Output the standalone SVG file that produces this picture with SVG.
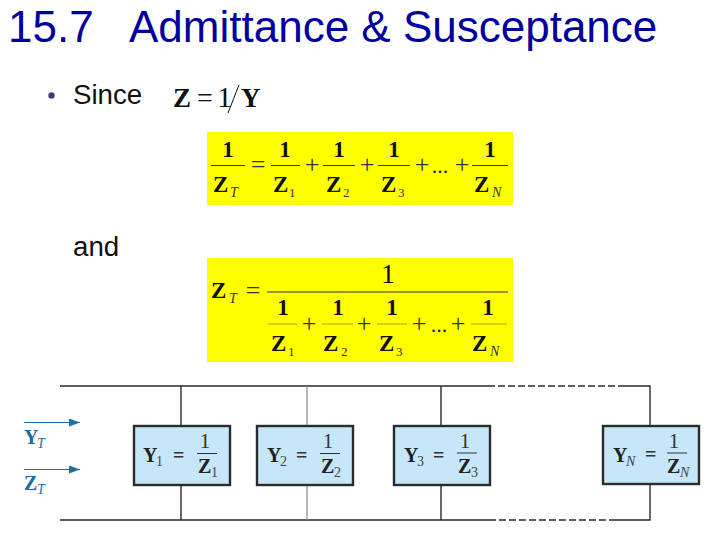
<svg xmlns="http://www.w3.org/2000/svg" width="720" height="540" viewBox="0 0 720 540">
<style>
.h{font-family:"Liberation Sans",Arial,sans-serif;fill:#0000a0;font-size:44px}
.b{font-family:"Liberation Sans",Arial,sans-serif;fill:#111;font-size:27.700px}
.m{font-family:"Liberation Serif","Times New Roman",serif;fill:#111}
.z{font-weight:bold;font-size:23px}
.o{font-size:26px;text-anchor:middle;fill:#333}
.d{font-size:22px;text-anchor:middle;fill:#222}
.r{font-size:28px}
.s{font-size:13px;fill:#333}
.i{font-style:italic;font-size:14px;fill:#333}
.mid{text-anchor:middle}
.bar{stroke:#333;stroke-width:1;fill:none}
.bar2{stroke:#a8a800;stroke-width:1;fill:none}
.box{fill:#c6e6fa;stroke:#2b2b2b;stroke-width:2.4}
.wire{stroke:#2b2b2b;stroke-width:1.4;fill:none}
.wg{stroke:#8a8a8a;stroke-width:1.2;fill:none}
.tz{font-family:"Liberation Serif","Times New Roman",serif;font-weight:bold;font-size:20px;fill:#222}
.ts{font-family:"Liberation Serif","Times New Roman",serif;font-size:14px;fill:#444}
.tsi{font-family:"Liberation Serif","Times New Roman",serif;font-style:italic;font-size:14px;fill:#444}
.teq{font-family:"Liberation Serif","Times New Roman",serif;font-weight:bold;font-size:20px;fill:#333}
.t1{font-family:"Liberation Serif","Times New Roman",serif;font-size:21px;fill:#333;text-anchor:middle}
.lb{font-family:"Liberation Serif","Times New Roman",serif;font-weight:bold;font-size:20px;fill:#1f6a9a}
.lbs{font-family:"Liberation Serif","Times New Roman",serif;font-style:italic;font-size:14px;fill:#1f6a9a}
.arr{stroke:#1f6f9f;stroke-width:1.2;fill:none;marker-end:url(#ah)}
</style>
<defs>
<marker id="ah" markerUnits="userSpaceOnUse" markerWidth="11" markerHeight="8" refX="11" refY="4" orient="auto"><path d="M0 0L11 4L0 8Z" fill="#1f6f9f"/></marker>
</defs>
<rect width="720" height="540" fill="#fff"/>
<text class="h" x="8" y="42">15.7</text>
<text class="h" x="129" y="42">Admittance &amp; Susceptance</text>
<circle cx="51.500" cy="95.500" r="3.200" fill="#3c3c8c"/>
<text class="b" x="73" y="104">Since</text>
<text class="b" x="73" y="256">and</text>

<g id="formula-zy">
<text class="m" x="173" y="107" style="font-size:27px;font-weight:bold">Z</text>
<text class="m" x="197" y="107" style="font-size:28px">=</text>
<text class="m" x="217" y="107" style="font-size:30px">1</text>
<path d="M239 85L228 113" stroke="#111" stroke-width="1" fill="none"/>
<text class="m" x="241" y="107" style="font-size:27px;font-weight:bold">Y</text>
</g>

<g id="formula-sum">
<rect x="207" y="132" width="306" height="73" fill="#ffff00"/>
<g class="m">
<text class="z mid" x="228" y="157">1</text>
<text class="z mid" x="285" y="157">1</text>
<text class="z mid" x="339" y="157">1</text>
<text class="z mid" x="394" y="157">1</text>
<text class="z mid" x="490" y="157">1</text>
<text class="o" x="258" y="173">=</text>
<text class="o" x="312" y="173">+</text>
<text class="o" x="367" y="173">+</text>
<text class="o" x="422" y="173">+</text>
<text class="d" x="440" y="173">...</text>
<text class="o" x="462" y="173">+</text>
<text class="z" x="213" y="192">Z</text><text class="i" x="230" y="197">T</text>
<text class="z" x="273" y="192">Z</text><text class="s" x="289" y="197">1</text>
<text class="z" x="326" y="192">Z</text><text class="s" x="343" y="197">2</text>
<text class="z" x="381" y="192">Z</text><text class="s" x="398" y="197">3</text>
<text class="z" x="474" y="192">Z</text><text class="i" x="492" y="197">N</text>
</g>
<path class="bar" d="M211 165.500H245M271 165.500H300M323 165.500H355M378 165.500H410M472 165.500H508"/>
</g>

<g id="formula-zt">
<rect x="207" y="258" width="306" height="104" fill="#ffff00"/>
<g class="m">
<text class="z" x="211" y="298">Z</text><text class="i" x="229" y="303">T</text>
<text class="o" x="253" y="299">=</text>
<text class="r mid" x="388" y="283">1</text>
<text class="z mid" x="283" y="315">1</text>
<text class="z mid" x="338" y="315">1</text>
<text class="z mid" x="392" y="315">1</text>
<text class="z mid" x="488" y="315">1</text>
<text class="o" x="309" y="332">+</text>
<text class="o" x="364" y="332">+</text>
<text class="o" x="419" y="332">+</text>
<text class="d" x="439" y="332">...</text>
<text class="o" x="458" y="332">+</text>
<text class="z" x="271" y="351">Z</text><text class="s" x="288" y="356">1</text>
<text class="z" x="323" y="351">Z</text><text class="s" x="341" y="356">2</text>
<text class="z" x="379" y="351">Z</text><text class="s" x="396" y="356">3</text>
<text class="z" x="472" y="351">Z</text><text class="i" x="490" y="356">N</text>
</g>
<path class="bar" d="M267 292H508"/>
<path class="bar2" d="M268 324H297M322 324H353M377 324H407M471 324H507"/>
</g>

<g id="connectors">
<path class="wire" d="M60 386H488M622 386H650V426M60 520H489M616 520H650V485"/>
<path class="wire" stroke-dasharray="7 3" d="M488 386H622M489 520H616"/>
<path class="wire" d="M181 386V426M181 485V520M441 386V426M441 485V520"/>
<path class="wg" d="M307 386V426M307 485V520"/>
<path class="arr" d="M24 422.500H80"/>
<path class="arr" d="M24 469.500H80"/>
</g>

<g id="label-yt"><text class="lb" x="24" y="444">Y</text><text class="lbs" x="37" y="448">T</text></g>
<g id="label-zt"><text class="lb" x="24" y="490">Z</text><text class="lbs" x="37" y="494">T</text></g>

<g id="node-y1">
<rect class="box" x="134" y="426" width="96" height="59"/>
<text class="tz" x="143" y="462">Y</text><text class="ts" x="156" y="466">1</text>
<text class="teq" x="173" y="462">=</text>
<text class="t1" x="205" y="448">1</text>
<path class="bar" d="M197 453.500H217"/>
<text class="tz" x="198" y="473">Z</text><text class="ts" x="211" y="477">1</text>
</g>
<g id="node-y2">
<rect class="box" x="257" y="426" width="96" height="59"/>
<text class="tz" x="267" y="462">Y</text><text class="ts" x="280" y="466">2</text>
<text class="teq" x="296" y="462">=</text>
<text class="t1" x="328" y="448">1</text>
<path class="bar" d="M320 453.500H340"/>
<text class="tz" x="321" y="473">Z</text><text class="ts" x="334" y="477">2</text>
</g>
<g id="node-y3">
<rect class="box" x="394" y="426" width="96" height="59"/>
<text class="tz" x="404" y="462">Y</text><text class="ts" x="417" y="466">3</text>
<text class="teq" x="433" y="462">=</text>
<text class="t1" x="465" y="448">1</text>
<path class="bar" d="M457 453H477"/>
<text class="tz" x="458" y="473">Z</text><text class="ts" x="471" y="477">3</text>
</g>
<g id="node-yn">
<rect class="box" x="603" y="426" width="96" height="58"/>
<text class="tz" x="613" y="462">Y</text><text class="tsi" x="626" y="466">N</text>
<text class="teq" x="645" y="461">=</text>
<text class="t1" x="674" y="448">1</text>
<path class="bar" d="M667 453H687"/>
<text class="tz" x="667" y="473">Z</text><text class="tsi" x="680" y="477">N</text>
</g>
</svg>
